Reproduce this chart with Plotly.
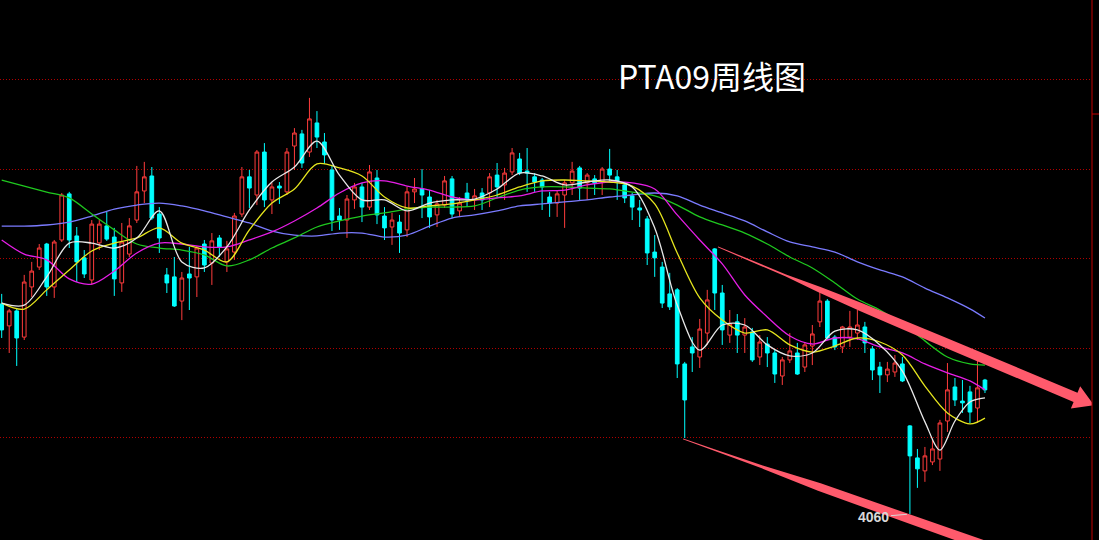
import math
import plotly.graph_objects as go

# ---------------- data (weekly PTA09) ----------------
opens = [4999, 4901, 4968, 4851, 5075, 5164, 5267, 5075, 5285, 5491,
         5303, 5205, 5106, 5272, 5348, 5298, 5093, 5222, 5374, 5504,
         5571, 5401, 5129, 5120, 5012, 5133, 5120, 5267, 5182, 5294,
         5187, 5231, 5401, 5567, 5486, 5678, 5464, 5526, 5500, 5705,
         5759, 5678, 5808, 5723, 5598, 5392, 5374, 5464, 5522, 5432,
         5562, 5392, 5343, 5365, 5330, 5500, 5513, 5477, 5397, 5441,
         5558, 5415, 5495, 5464, 5495, 5495, 5575, 5531, 5589, 5647,
         5593, 5567, 5553, 5477, 5450, 5486, 5540, 5607, 5540, 5558,
         5544, 5602, 5567, 5531, 5482, 5428, 5379, 5231, 5164, 5044,
         5062, 4731, 4807, 4762, 4869, 5245, 5048, 4860, 4919, 4860,
         4874, 4762, 4820, 4780, 4677, 4749, 4780, 4717, 4811, 4919,
         5012, 4851, 4807, 4851, 4869, 4896, 4798, 4717, 4682, 4695,
         4731, 4454, 4311, 4253, 4293, 4306, 4476, 4628, 4565, 4606,
         4534, 4659]
highs = [5044, 4977, 4977, 5129, 5187, 5267, 5272, 5285, 5495, 5500,
         5343, 5240, 5374, 5374, 5410, 5339, 5361, 5383, 5616, 5634,
         5611, 5432, 5160, 5209, 5142, 5254, 5258, 5285, 5316, 5307,
         5281, 5406, 5611, 5598, 5687, 5718, 5540, 5544, 5696, 5785,
         5777, 5920, 5861, 5763, 5620, 5428, 5486, 5540, 5540, 5620,
         5598, 5432, 5406, 5397, 5522, 5562, 5602, 5508, 5464, 5571,
         5571, 5477, 5540, 5513, 5517, 5584, 5629, 5607, 5696, 5674,
         5696, 5584, 5562, 5500, 5504, 5553, 5634, 5616, 5584, 5575,
         5611, 5692, 5598, 5544, 5495, 5464, 5392, 5307, 5187, 5138,
         5070, 4740, 4851, 4932, 5062, 5249, 5084, 4972, 4954, 4936,
         4892, 4860, 4851, 4793, 4762, 4869, 4825, 4829, 4905, 5053,
         5021, 4860, 4901, 4968, 4972, 4919, 4811, 4740, 4740, 4771,
         4762, 4458, 4351, 4360, 4396, 4481, 4735, 4668, 4659, 4633,
         4753, 4664]
lows = [4847, 4780, 4722, 4838, 5030, 5151, 5035, 5026, 5276, 5249,
        5097, 5115, 5084, 5240, 5281, 5035, 5053, 5209, 5361, 5450,
        5374, 5227, 5048, 4986, 4927, 4972, 5030, 5142, 5084, 5209,
        5142, 5196, 5388, 5428, 5441, 5432, 5401, 5446, 5486, 5598,
        5607, 5656, 5696, 5625, 5325, 5330, 5294, 5424, 5365, 5419,
        5356, 5285, 5263, 5227, 5298, 5450, 5383, 5339, 5343, 5428,
        5383, 5388, 5432, 5419, 5419, 5432, 5477, 5464, 5575, 5575,
        5500, 5500, 5419, 5388, 5388, 5339, 5486, 5464, 5464, 5486,
        5486, 5544, 5464, 5450, 5374, 5343, 5173, 5120, 4981, 4972,
        4668, 4400, 4695, 4713, 4816, 4972, 4816, 4825, 4780, 4780,
        4740, 4726, 4717, 4646, 4637, 4735, 4682, 4695, 4726, 4896,
        4838, 4793, 4780, 4807, 4838, 4780, 4659, 4601, 4650, 4673,
        4650, 4060, 4177, 4204, 4279, 4253, 4427, 4543, 4512, 4467,
        4467, 4601]
closes = [4883, 4968, 4847, 5097, 5146, 5249, 5075, 5276, 5486, 5285,
          5187, 5133, 5356, 5356, 5289, 5111, 5276, 5348, 5500, 5567,
          5383, 5294, 5093, 4990, 5115, 5115, 5249, 5173, 5281, 5254,
          5245, 5392, 5567, 5517, 5678, 5464, 5522, 5517, 5678, 5763,
          5629, 5826, 5745, 5665, 5374, 5374, 5468, 5522, 5432, 5589,
          5397, 5339, 5374, 5316, 5500, 5513, 5486, 5388, 5446, 5549,
          5401, 5450, 5464, 5482, 5464, 5567, 5522, 5584, 5674, 5584,
          5584, 5544, 5522, 5450, 5491, 5540, 5593, 5517, 5575, 5540,
          5602, 5575, 5549, 5473, 5432, 5419, 5227, 5205, 5003, 4986,
          4731, 4570, 4780, 4887, 5017, 5048, 4883, 4910, 4860, 4896,
          4749, 4829, 4780, 4686, 4749, 4789, 4686, 4816, 4865, 5012,
          4847, 4807, 4896, 4896, 4905, 4825, 4704, 4682, 4708, 4735,
          4655, 4320, 4262, 4320, 4351, 4467, 4615, 4570, 4557, 4516,
          4624, 4615]
weeks = list(range(len(opens)))

# moving-average lines at these weeks
ma5_weeks = list(range(0, 124, 3)) + [125, 127, 129, 131]
ma5 = [5003, 4994, 5120, 5271, 5271, 5249, 5294, 5415, 5187, 5160,
       5254, 5419, 5544, 5611, 5727, 5575, 5464, 5464, 5415, 5450,
       5464, 5468, 5513, 5584, 5571, 5531, 5544, 5553, 5522, 5339,
       4994, 4793, 4905, 4905, 4816, 4767, 4780, 4878, 4883, 4816,
       4699, 4472, 4346, 4476, 4561, 4579]
ma_weeks = list(range(0, 130, 3)) + [131]
ma10 = [5003, 4976, 5062, 5151, 5236, 5271, 5294, 5339, 5271, 5240,
        5187, 5330, 5450, 5513, 5625, 5607, 5571, 5477, 5428, 5437,
        5446, 5464, 5486, 5522, 5549, 5553, 5549, 5544, 5526, 5446,
        5227, 5026, 4927, 4869, 4883, 4816, 4784, 4811, 4847, 4829,
        4771, 4632, 4512, 4463, 4489]
ma20 = [5285, 5222, 5196, 5111, 5088, 5146, 5227, 5271, 5267, 5254,
        5254, 5285, 5321, 5370, 5428, 5495, 5540, 5549, 5526, 5508,
        5477, 5464, 5473, 5482, 5504, 5508, 5531, 5544, 5540, 5513,
        5397, 5285, 5178, 5039, 4941, 4856, 4820, 4847, 4843, 4807,
        4780, 4731, 4691, 4655, 4615]
ma40 = [5553, 5526, 5499, 5473, 5401, 5330, 5267, 5249, 5240, 5218,
        5169, 5196, 5249, 5294, 5343, 5370, 5392, 5406, 5423, 5432,
        5432, 5437, 5473, 5508, 5522, 5522, 5517, 5513, 5499, 5482,
        5441, 5388, 5352, 5316, 5267, 5209, 5160, 5093, 5021, 4972,
        4910, 4834, 4762, 4731, 4726]
ma60 = [5347, 5347, 5352, 5365, 5392, 5423, 5441, 5450, 5437, 5415,
        5388, 5361, 5325, 5307, 5303, 5316, 5316, 5298, 5307, 5347,
        5383, 5397, 5415, 5437, 5446, 5455, 5464, 5477, 5486, 5495,
        5482, 5441, 5406, 5370, 5321, 5276, 5254, 5231, 5187, 5151,
        5120, 5070, 5026, 4977, 4936]

grid_levels = [4400, 4800, 5200, 5600, 6000]
low_label = 4060
low_week = 121
title_text = "PTA09周线图"

# trend lines drawn on the chart: (week, price) endpoints
upper_trend = ((95.43, 5254), (145.52, 4547))
lower_trend = ((90.77, 4396), (133.0, 3895))

# ---------------- layout constants ----------------
FIG_W, FIG_H = 1099, 540
PLOT_W = 1092
X0, X1 = -0.2265, 145.26
Y0, Y1 = 3944.1, 6357.5
TREND_COLOR = "#ff5a6c"
AXIS_RED = "#c00000"


def to_px(i, p):
    return ((i - X0) / (X1 - X0) * PLOT_W, (Y1 - p) / (Y1 - Y0) * FIG_H)


def to_data(x, y):
    return (X0 + x / PLOT_W * (X1 - X0), Y1 - y / FIG_H * (Y1 - Y0))


def taper_path(start, end, profile, head=None):
    x0, y0 = to_px(*start)
    x1, y1 = to_px(*end)
    dx, dy = x1 - x0, y1 - y0
    L = math.hypot(dx, dy)
    nx, ny = -dy / L, dx / L
    left, right = [], []
    for t, w in profile:
        cx, cy = x0 + dx * t, y0 + dy * t
        left.append((cx + nx * w / 2, cy + ny * w / 2))
        right.append((cx - nx * w / 2, cy - ny * w / 2))
    pts = list(left)
    if head:
        hl, hw = head
        tb = 1 - hl / L
        bx, by = x0 + dx * tb, y0 + dy * tb
        pts += [(bx + nx * hw, by + ny * hw), (x1, y1), (bx - nx * hw, by - ny * hw)]
    pts += right[::-1]
    d = []
    for k, (px, py) in enumerate(pts):
        xd, yd = to_data(px, py)
        d.append(("M" if k == 0 else "L") + f"{xd:.4f},{yd:.3f}")
    return " ".join(d) + " Z"


fig = go.Figure()

fig.add_trace(go.Candlestick(
    x=weeks, open=opens, high=highs, low=lows, close=closes,
    increasing=dict(line=dict(color="#ff3c3c", width=1), fillcolor="#000000"),
    decreasing=dict(line=dict(color="#00ffff", width=1), fillcolor="#00ffff"),
    whiskerwidth=0, showlegend=False, hoverinfo="skip",
))

for xs, ys, col in [(ma_weeks, ma60, "#7b7bff"), (ma_weeks, ma40, "#1fc81f"),
                    (ma_weeks, ma20, "#e61ee6"), (ma_weeks, ma10, "#e6e61e"),
                    (ma5_weeks, ma5, "#e8e8e8")]:
    fig.add_trace(go.Scatter(x=xs, y=ys, mode="lines",
                             line=dict(color=col, width=1.3, shape="spline", smoothing=0.9),
                             showlegend=False, hoverinfo="skip"))

shapes = [
    dict(type="path", xref="x", yref="y", layer="above",
         path=taper_path(upper_trend[0], upper_trend[1],
                         [(0, 1), (0.18, 2), (0.27, 5.5), (0.38, 8), (0.6, 9.5), (0.951, 10)],
                         head=(20, 12)),
         fillcolor=TREND_COLOR, line=dict(width=0)),
    dict(type="path", xref="x", yref="y", layer="above",
         path=taper_path(lower_trend[0], lower_trend[1],
                         [(0, 1), (0.11, 1.5), (0.25, 3), (0.43, 8), (1, 10)]),
         fillcolor=TREND_COLOR, line=dict(width=0)),
    dict(type="line", xref="paper", yref="paper", x0=PLOT_W / FIG_W, x1=PLOT_W / FIG_W,
         y0=0, y1=1, line=dict(color=AXIS_RED, width=1)),
    dict(type="line", xref="paper", yref="y", x0=PLOT_W / FIG_W, x1=1,
         y0=5848, y1=5848, line=dict(color=AXIS_RED, width=1)),
]

annotations = [
    dict(text=title_text, xref="paper", yref="paper", x=712 / FIG_W, y=1 - 75 / FIG_H,
         xanchor="center", yanchor="middle", showarrow=False,
         font=dict(family="Noto Sans CJK SC", size=32, color="#ffffff")),
    dict(text=f"<b>{low_label}</b>", x=low_week, y=low_label, xref="x", yref="y",
         showarrow=True, arrowhead=0, arrowwidth=1, arrowcolor="#d8d8d8",
         ax=-36, ay=3, standoff=3,
         font=dict(family="Liberation Sans", size=14, color="#d8d8d8")),
]

fig.update_layout(
    width=FIG_W, height=FIG_H,
    margin=dict(l=0, r=0, t=0, b=0),
    paper_bgcolor="#000000", plot_bgcolor="#000000",
    xaxis=dict(domain=[0, PLOT_W / FIG_W], range=[X0, X1], showgrid=False,
               zeroline=False, showticklabels=False, ticks="",
               rangeslider=dict(visible=False), fixedrange=True),
    yaxis=dict(range=[Y0, Y1], tickvals=grid_levels, showticklabels=False, ticks="",
               showgrid=True, gridcolor="#b00000", griddash="1px,2px", gridwidth=1,
               zeroline=False, fixedrange=True),
    shapes=shapes, annotations=annotations,
    boxgap=0.3, showlegend=False,
)

fig.write_html(
    "out.html",
    config={"displayModeBar": False},
    post_script="document.body.style.margin='0';document.body.style.background='#000';",
)
